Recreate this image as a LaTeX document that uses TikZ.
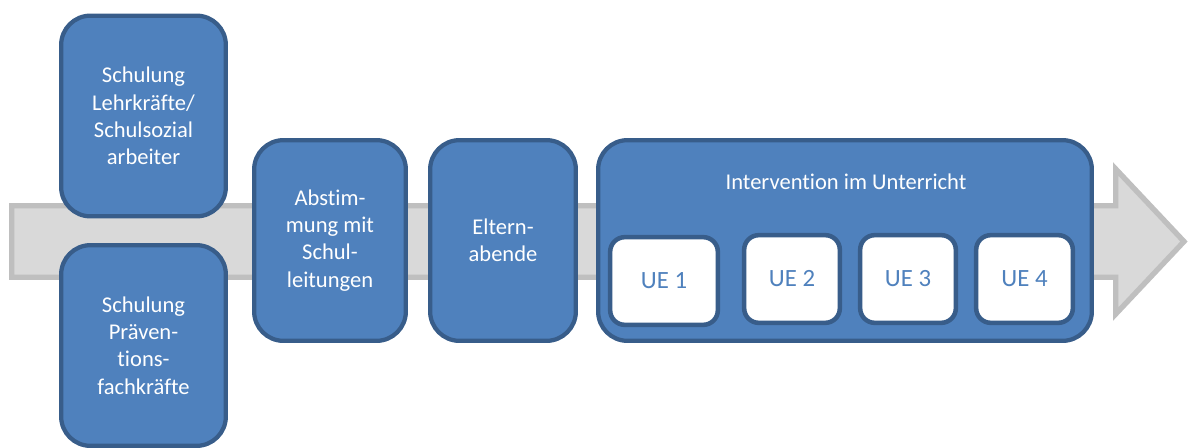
\documentclass[tikz,border=0pt]{standalone}
\usepackage{fontspec}
\setmainfont{Carlito}[Ligatures=NoCommon]
\definecolor{boxfill}{HTML}{4F81BD}
\definecolor{boxline}{HTML}{385D8A}
\definecolor{arrowfill}{HTML}{D9D9D9}
\definecolor{arrowline}{HTML}{BFBFBF}
\tikzset{
  bluebox/.style={draw=boxline, fill=boxfill, line width=3.2pt, rounded corners=22pt,
    text=white, align=center, inner sep=0pt,
    font=\fontsize{16.9pt}{20.4pt}\selectfont},
  uebox/.style={draw=boxline, fill=white, line width=3.4pt, rounded corners=11pt,
    text=boxfill, inner sep=0pt, minimum height={87.7*0.75pt},
    font=\fontsize{18.6pt}{21pt}\selectfont},
  titletext/.style={text=white, inner sep=0pt, font=\fontsize{16.9pt}{20.4pt}\selectfont},
  bigarrow/.style={draw=arrowline, fill=arrowfill, line width=4pt, miter limit=4}
}
\begin{document}
\begin{tikzpicture}[x=0.75pt, y=-0.75pt]
\useasboundingbox (0,0) rectangle (1189,447);
\clip (0,0) rectangle (1189,447);
% background arrow
\draw[bigarrow] (11.75,205.75) -- (1115.75,205.75) -- (1115.75,169) -- (1184,241.5)
  -- (1115.75,314) -- (1115.75,277.25) -- (11.75,277.25) -- cycle;
% left boxes
\node[bluebox, minimum width={164.7*0.75pt}, minimum height={200.7*0.75pt}] (lehr) at (143.5,116)
  {Schulung\\Lehrkräfte/\\Schulsozial\\arbeiter};
\node[bluebox, minimum width={164.7*0.75pt}, minimum height={200.7*0.75pt}] (praev) at (143.5,345.5)
  {Schulung\\Präven-\\tions-\\fachkräfte};
\node[bluebox, minimum width={151.7*0.75pt}, minimum height={200.7*0.75pt}] (abst) at (330,240.5)
  {Abstim-\\mung mit\\Schul-\\leitungen};
\node[bluebox, minimum width={145.7*0.75pt}, minimum height={200.7*0.75pt}] (eltern) at (503,240.5)
  {Eltern-\\abende};
\node[bluebox, minimum width={493.7*0.75pt}, minimum height={200.7*0.75pt}] (interv) at (845,240.5) {};
\node[titletext] (title) at (846,182) {Intervention im Unterricht};
\node[uebox, minimum width={107.7*0.75pt}] (ue1) at (664,281) {UE 1};
\node[uebox, minimum width={95.7*0.75pt}] (ue2) at (792,279) {UE 2};
\node[uebox, minimum width={95.7*0.75pt}] (ue3) at (908,279) {UE 3};
\node[uebox, minimum width={96.7*0.75pt}] (ue4) at (1024.5,279) {UE 4};
\end{tikzpicture}
\end{document}
